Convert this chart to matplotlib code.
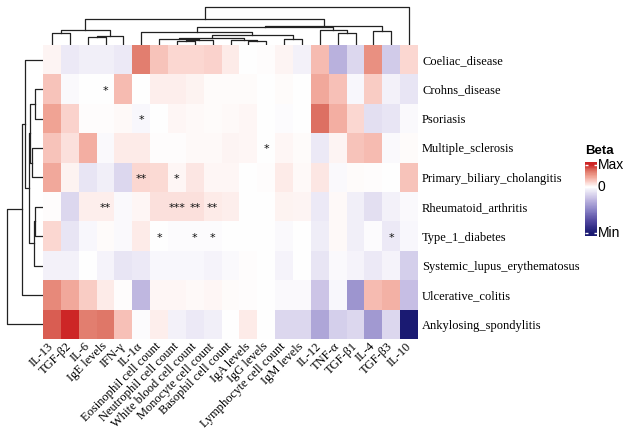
#!/usr/bin/env python3

import matplotlib
matplotlib.use('Agg')
import matplotlib.pyplot as plt
import numpy as np
from matplotlib.colors import LinearSegmentedColormap, Normalize

W, H = 629, 433

diseases = ['Coeliac_disease', 'Crohns_disease', 'Psoriasis', 'Multiple_sclerosis',
            'Primary_biliary_cholangitis', 'Rheumatoid_arthritis', 'Type_1_diabetes',
            'Systemic_lupus_erythematosus', 'Ulcerative_colitis', 'Ankylosing_spondylitis']

traits = ['IL-13', 'TGF-β2', 'IL-6', 'IgE levels', 'IFN-γ', 'IL-1α',
          'Eosinophil cell count', 'Neutrophil cell count', 'White blood cell count',
          'Monocyte cell count', 'Basophil cell count', 'IgA levels', 'IgG levels',
          'Lymphocyte cell count', 'IgM levels', 'IL-12', 'TNF-α', 'TGF-β1', 'IL-4',
          'TGF-β3', 'IL-10']

# beta per disease (row) and trait (column), scaled so Max = 1, Min = -1
beta = [
    [0.05, -0.08, -0.06, -0.06, -0.08, 0.68, 0.30, 0.20, 0.20, 0.22, 0.10, 0.00, 0.01, 0.05, -0.05, 0.35, -0.30, -0.15, 0.58, -0.20, 0.20],
    [0.30, -0.02, 0.00, 0.00, 0.35, 0.00, 0.08, 0.08, 0.06, 0.02, 0.02, 0.02, 0.00, 0.02, 0.00, 0.45, 0.32, -0.03, 0.25, -0.05, -0.10],
    [0.48, 0.22, 0.01, 0.01, 0.03, -0.03, 0.00, 0.04, 0.03, 0.02, 0.03, 0.04, 0.00, -0.01, 0.00, 0.75, 0.42, 0.20, -0.12, -0.10, -0.02],
    [0.30, 0.15, 0.42, -0.02, 0.10, 0.10, 0.01, 0.01, 0.03, 0.03, 0.05, 0.04, 0.00, 0.04, 0.02, -0.08, 0.05, 0.30, 0.35, -0.02, 0.02],
    [0.45, 0.06, -0.10, -0.06, -0.15, 0.20, 0.18, 0.04, 0.12, 0.04, 0.04, 0.00, 0.01, 0.10, 0.03, 0.12, -0.02, 0.02, 0.01, 0.00, 0.30],
    [0.01, -0.15, 0.08, 0.08, -0.02, 0.04, 0.15, 0.15, 0.15, 0.10, 0.08, 0.00, 0.00, 0.06, 0.05, -0.08, 0.03, -0.06, -0.12, -0.05, -0.02],
    [0.20, -0.10, -0.03, 0.02, -0.02, 0.10, 0.00, -0.01, -0.01, -0.01, 0.00, 0.00, 0.00, -0.02, 0.00, -0.07, 0.03, -0.06, -0.01, -0.08, -0.03],
    [-0.05, -0.05, 0.00, -0.04, -0.10, -0.08, -0.03, -0.03, -0.03, -0.04, -0.02, 0.01, 0.00, -0.04, 0.00, -0.10, -0.02, -0.04, -0.08, -0.04, -0.18],
    [0.62, 0.45, 0.25, 0.10, 0.01, -0.28, 0.04, 0.04, 0.03, 0.04, 0.02, 0.01, 0.00, -0.02, -0.02, -0.22, -0.03, -0.42, 0.35, 0.40, -0.25],
    [0.82, 1.00, 0.68, 0.72, 0.32, -0.01, 0.08, -0.05, -0.08, -0.06, 0.00, 0.10, 0.00, -0.15, -0.15, -0.35, -0.18, -0.15, -0.40, -0.15, -1.00],
]

# (row, column, mark)
stars = [(1, 3, '*'), (2, 5, '*'), (3, 12, '*'), (4, 5, '**'), (4, 7, '*'),
         (5, 3, '**'), (5, 7, '***'), (5, 8, '**'), (5, 9, '**'),
         (6, 6, '*'), (6, 8, '*'), (6, 9, '*'), (6, 19, '*')]

# linkage: (left node, right node, height); new nodes numbered after the leaves
col_links = [(7, 8, 4.2), (11, 12, 4.2), (21, 9, 4.8), (10, 22, 5.0), (6, 23, 6.5),
             (13, 14, 6.5), (25, 24, 7.5), (2, 3, 8.2), (28, 4, 9.2), (27, 26, 9.7),
             (0, 1, 12.0), (16, 17, 12.3), (5, 30, 12.7), (18, 19, 14.3), (15, 32, 15.3),
             (31, 29, 15.3), (33, 35, 18.5), (37, 34, 19.0), (36, 38, 25.7), (39, 20, 38.3)]
row_links = [(1, 2, 8.0), (5, 6, 8.0), (11, 7, 8.7), (3, 4, 10.7), (10, 13, 13.0),
             (14, 12, 13.7), (0, 15, 18.0), (16, 8, 21.3), (17, 9, 36.3)]

cmap = LinearSegmentedColormap.from_list('beta', [
    (0.0, '#1a1a72'), (0.125, '#50469e'), (0.25, '#8a83c6'), (0.375, '#c6bee4'),
    (0.5, '#ffffff'), (0.625, '#facdc6'), (0.75, '#f0a091'), (0.875, '#de7364'),
    (1.0, '#cd2626')])
norm = Normalize(-1, 1)


def rect(x0, y0, x1, y1):
    return [x0 / W, 1 - y1 / H, (x1 - x0) / W, (y1 - y0) / H]


def dendro_segments(links, n):
    pos = [float(i) for i in range(n)]
    hgt = [0.0] * n
    segs = []
    for a, b, h in links:
        segs.append(([pos[a], pos[a], pos[b], pos[b]], [hgt[a], h, h, hgt[b]]))
        pos.append((pos[a] + pos[b]) / 2)
        hgt.append(h)
    return segs


def main():
    plt.rcParams['font.family'] = ['Liberation Serif', 'DejaVu Serif']
    fig = plt.figure(figsize=(W / 100, H / 100), dpi=100)

    ax = fig.add_axes(rect(43, 45, 418, 339))
    ax.imshow(np.array(beta), cmap=cmap, norm=norm, aspect='auto', interpolation='nearest')
    for r, c, s in stars:
        ax.text(c, r + 0.05, s, ha='center', va='center', fontsize=8,
                family='DejaVu Sans', color='#111111')
    ax.set_xticks(range(len(traits)))
    ax.set_xticklabels(traits, rotation=45, ha='right', va='center',
                       rotation_mode='anchor', fontsize=9)
    ax.set_yticks(range(len(diseases)))
    ax.set_yticklabels(diseases, fontsize=9)
    ax.yaxis.tick_right()
    ax.tick_params(length=0, pad=3)
    ax.tick_params(axis='x', pad=4)
    for sp in ax.spines.values():
        sp.set_visible(False)

    axc = fig.add_axes(rect(43, 5, 418, 45))
    for xs, ys in dendro_segments(col_links, len(traits)):
        axc.plot(xs, ys, color='#222222', lw=0.9)
    axc.set_xlim(-0.5, len(traits) - 0.5)
    axc.set_ylim(0, 40)
    axc.axis('off')

    axr = fig.add_axes(rect(3, 45, 43, 339))
    for ys, xs in dendro_segments(row_links, len(diseases)):
        axr.plot(xs, ys, color='#222222', lw=0.9)
    axr.set_ylim(len(diseases) - 0.5, -0.5)
    axr.set_xlim(40, 0)
    axr.axis('off')

    # legend bar: Max at 165px, 0 at 187px, Min at 233px
    axl = fig.add_axes(rect(585, 162, 597, 236))
    yy = np.linspace(162, 236, 201)
    ymid = (yy[:-1] + yy[1:]) / 2
    vals = np.interp(ymid, [165, 187, 233], [1, 0, -1])
    axl.pcolormesh([0, 1], yy, vals[:, None], cmap=cmap, norm=norm)
    for yt in (165, 187, 233):
        axl.hlines(yt, 0, 0.25, color='white', lw=1)
        axl.hlines(yt, 0.75, 1, color='white', lw=1)
    axl.set_xlim(0, 1)
    axl.set_ylim(236, 162)
    axl.axis('off')
    sans = 'Liberation Sans'
    fig.text(585 / W, 1 - 151 / H, 'Beta', family=sans, fontweight='bold',
             fontsize=9.5, va='center', ha='left')
    for lab, yt in (('Max', 165), ('0', 187), ('Min', 233)):
        fig.text(598 / W, 1 - yt / H, lab, family=sans, fontsize=10, va='center', ha='left')

    fig.savefig('out.png', dpi=100)
    plt.close(fig)


if __name__ == '__main__':
    main()
